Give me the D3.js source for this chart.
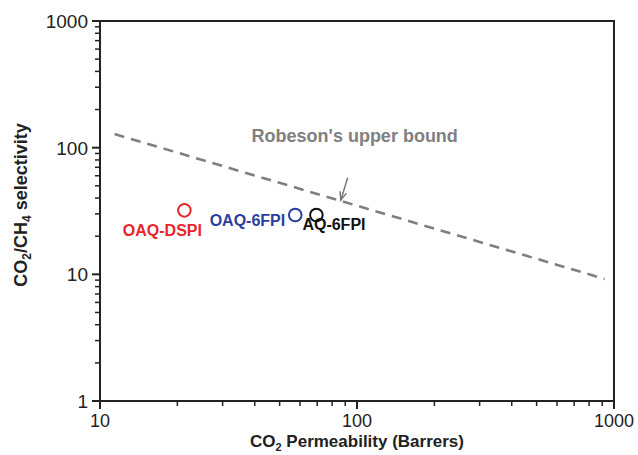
<!DOCTYPE html>
<html>
<head>
<meta charset="utf-8">
<script src="https://cdn.jsdelivr.net/npm/d3@7"></script>
<style>
  body { margin: 0; background: #fff; }
  text { font-family: "Liberation Sans", Arial, sans-serif; }
</style>
</head>
<body>
<svg id="chart" width="638" height="455"></svg>
<script>
// data
const samples = ["OAQ-DSPI", "OAQ-6FPI", "AQ-6FPI"];
const permeability = [21.3, 57.5, 69.5];
const selectivity = [32, 29.4, 29.4];
const sampleColors = ["#e8252a", "#2b3f9e", "#111111"];

// Robeson upper bound endpoints (as drawn)
const boundP = [11.4, 920];
const boundA = [128, 9.2];

const xTicks = [10, 100, 1000];
const yTicks = [1, 10, 100, 1000];

const margin = { top: 21, right: 24, bottom: 54, left: 100 },
    width = 638 - margin.left - margin.right,
    height = 455 - margin.top - margin.bottom;

const svg = d3.select("#chart");
const g = svg.append("g").attr("transform", `translate(${margin.left},${margin.top})`);

const x = d3.scaleLog().domain([10, 1000]).range([0, width]);
const y = d3.scaleLog().domain([1, 1000]).range([height, 0]);

// minor tick values
const minors = [];
[1, 10, 100].forEach(d => { for (let k = 2; k <= 9; k++) minors.push(d * k); });
const xMinors = minors.filter(v => v > 10 && v < 1000);

// frame
g.append("rect").attr("width", width).attr("height", height)
    .attr("fill", "none").attr("stroke", "#222").attr("stroke-width", 2);

// x axis
const xAxis = g.append("g").attr("transform", `translate(0,${height})`);
xAxis.selectAll(".minor").data(xMinors).enter().append("line")
    .attr("x1", d => x(d)).attr("x2", d => x(d))
    .attr("y1", 0).attr("y2", 5).attr("stroke", "#222").attr("stroke-width", 1.5);
xAxis.selectAll(".major").data(xTicks).enter().append("line")
    .attr("x1", d => x(d)).attr("x2", d => x(d))
    .attr("y1", 0).attr("y2", 8).attr("stroke", "#222").attr("stroke-width", 2);
xAxis.selectAll(".lab").data(xTicks).enter().append("text")
    .attr("x", d => x(d)).attr("y", 26)
    .attr("text-anchor", "middle").attr("font-size", 18).attr("fill", "#222")
    .text(d => d);

// y axis
const yAxis = g.append("g");
yAxis.selectAll(".minor").data(minors).enter().append("line")
    .attr("y1", d => y(d)).attr("y2", d => y(d))
    .attr("x1", 0).attr("x2", -5).attr("stroke", "#222").attr("stroke-width", 1.5);
yAxis.selectAll(".major").data(yTicks).enter().append("line")
    .attr("y1", d => y(d)).attr("y2", d => y(d))
    .attr("x1", 0).attr("x2", -8).attr("stroke", "#222").attr("stroke-width", 2);
yAxis.selectAll(".lab").data(yTicks).enter().append("text")
    .attr("x", -12).attr("y", d => y(d)).attr("dy", "0.36em")
    .attr("text-anchor", "end").attr("font-size", 19).attr("fill", "#222")
    .text(d => d);

// axis titles
const xt = svg.append("text").attr("x", margin.left + width / 2).attr("y", 447)
    .attr("text-anchor", "middle").attr("font-size", 17).attr("font-weight", "bold").attr("fill", "#222");
xt.append("tspan").text("CO");
xt.append("tspan").attr("font-size", 11).attr("dy", 4).text("2");
xt.append("tspan").attr("dy", -4).text(" Permeability (Barrers)");

const yt = svg.append("text").attr("transform", "translate(27,205) rotate(-90)")
    .attr("text-anchor", "middle").attr("font-size", 18).attr("font-weight", "bold").attr("fill", "#222");
yt.append("tspan").text("CO");
yt.append("tspan").attr("font-size", 12).attr("dy", 4).text("2");
yt.append("tspan").attr("dy", -4).text("/CH");
yt.append("tspan").attr("font-size", 12).attr("dy", 4).text("4");
yt.append("tspan").attr("dy", -4).text(" selectivity");

// Robeson upper bound
const line = d3.line().x(d => x(d[0])).y(d => y(d[1]));
g.append("path").datum(d3.zip(boundP, boundA))
    .attr("d", line).attr("fill", "none")
    .attr("stroke", "#7f7f7f").attr("stroke-width", 2.6)
    .attr("stroke-dasharray", "10,7");

g.append("text").attr("x", x(98)).attr("y", y(124)).attr("dy", "0.36em")
    .attr("text-anchor", "middle").attr("font-size", 18).attr("font-weight", "bold")
    .attr("fill", "#808080").text("Robeson's upper bound");

// arrow
const ax0 = x(92), ay0 = y(58), ax1 = x(86.5), ay1 = y(38.5);
g.append("line").attr("x1", ax0).attr("y1", ay0).attr("x2", ax1).attr("y2", ay1)
    .attr("stroke", "#777").attr("stroke-width", 1.5);
const ang = Math.atan2(ay1 - ay0, ax1 - ax0);
const hl = 9, hw = 0.38;
g.append("path")
    .attr("d", `M${ax1 - hl * Math.cos(ang - hw)},${ay1 - hl * Math.sin(ang - hw)} L${ax1},${ay1} L${ax1 - hl * Math.cos(ang + hw)},${ay1 - hl * Math.sin(ang + hw)}`)
    .attr("fill", "none").attr("stroke", "#777").attr("stroke-width", 1.5);

// samples
g.selectAll(".pt").data(samples).enter().append("circle")
    .attr("cx", (d, i) => x(permeability[i]))
    .attr("cy", (d, i) => y(selectivity[i]))
    .attr("r", 6.3).attr("fill", "none")
    .attr("stroke", (d, i) => sampleColors[i]).attr("stroke-width", 2);

// sample labels
const labelPos = [
    { dx: -22, dy: 20, anchor: "middle" },
    { dx: -10, dy: 5, anchor: "end" },
    { dx: -14, dy: 9, anchor: "start" }
];
g.selectAll(".lbl").data(samples).enter().append("text")
    .attr("x", (d, i) => x(permeability[i]) + labelPos[i].dx)
    .attr("y", (d, i) => y(selectivity[i]) + labelPos[i].dy)
    .attr("dy", "0.36em")
    .attr("text-anchor", (d, i) => labelPos[i].anchor)
    .attr("font-size", 16).attr("font-weight", "bold")
    .attr("fill", (d, i) => sampleColors[i])
    .text(d => d);
</script>
</body>
</html>
